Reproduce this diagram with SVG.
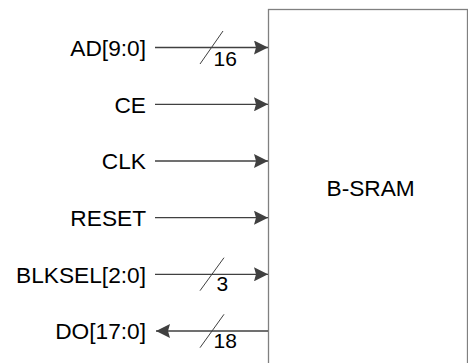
<svg xmlns="http://www.w3.org/2000/svg" width="468" height="363" viewBox="0 0 468 363">
  <style>
    .lbl { font-family: "Liberation Sans", Arial, sans-serif; font-size: 22.7px; fill: #000; text-anchor: end; }
    .bus { font-family: "Liberation Sans", Arial, sans-serif; font-size: 21px; fill: #000; }
    .wire { stroke: #404040; stroke-width: 1.3; fill: none; }
    .slash { stroke: #404040; stroke-width: 1; fill: none; }
    .box { stroke: #808080; stroke-width: 1.3; fill: #fff; }
  </style>
  <defs>
    <marker id="arr" viewBox="0 0 14 14" refX="14" refY="7" markerWidth="14" markerHeight="14" markerUnits="userSpaceOnUse" orient="auto">
      <path d="M0,0 L14,7 L0,14 L2,7 Z" fill="#404040"/>
    </marker>
  </defs>
  <rect width="468" height="363" fill="#fff"/>
  <g id="bsram">
    <rect class="box" x="268.5" y="9.5" width="199" height="370"/>
    <text x="326.5" y="196" font-family="Liberation Sans, Arial, sans-serif" font-size="22.7">B-SRAM</text>
  </g>
  <g id="labels">
    <text class="lbl" x="146" y="55.5">AD[9:0]</text>
    <text class="lbl" x="146" y="112.5">CE</text>
    <text class="lbl" x="146" y="168.5">CLK</text>
    <text class="lbl" x="146" y="225.5">RESET</text>
    <text class="lbl" x="146" y="282.5">BLKSEL[2:0]</text>
    <text class="lbl" x="146" y="339">DO[17:0]</text>
  </g>
  <g id="connectors">
    <line class="wire" x1="155" y1="47.5" x2="268" y2="47.5" marker-end="url(#arr)"/>
    <line class="slash" x1="200" y1="64" x2="223" y2="31"/>
    <text class="bus" x="213.5" y="66">16</text>
    <line class="wire" x1="155" y1="104.3" x2="268" y2="104.3" marker-end="url(#arr)"/>
    <line class="wire" x1="155" y1="161" x2="268" y2="161" marker-end="url(#arr)"/>
    <line class="wire" x1="155" y1="217.7" x2="268" y2="217.7" marker-end="url(#arr)"/>
    <line class="wire" x1="155" y1="274.3" x2="268" y2="274.3" marker-end="url(#arr)"/>
    <line class="slash" x1="200" y1="290.7" x2="224" y2="257.7"/>
    <text class="bus" x="216.5" y="291">3</text>
    <line class="wire" x1="268" y1="331" x2="156" y2="331" marker-end="url(#arr)"/>
    <line class="slash" x1="200" y1="347.7" x2="224" y2="314.3"/>
    <text class="bus" x="213.5" y="348.3">18</text>
  </g>
</svg>
